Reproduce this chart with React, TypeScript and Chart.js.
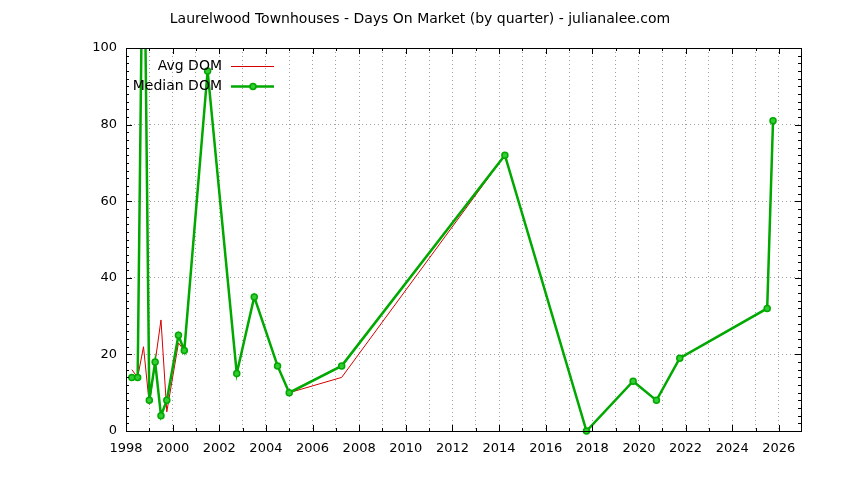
import Chart from "chart.js/auto";
import { useEffect, useRef } from "react";

const title = "Laurelwood Townhouses - Days On Market (by quarter) - julianalee.com";

// quarter positions (year + quarter/4)
const quarters = [
    1998.25, 1998.5, 1998.75, 1999.0, 1999.25, 1999.5, 1999.75, 2000.25, 2000.5,
    2001.5, 2002.75, 2003.5, 2004.5, 2005.0, 2007.25, 2014.25, 2017.75, 2019.75,
    2020.75, 2021.75, 2025.5, 2025.75,
];
const avgDom = [16, 14, 22, 7, 18, 29, 5, 23, 21, 94, 15, 35, 17, 10, 14, 72, 0, 13, 8, 19, 32, 81];
const medianDom = [14, 14, 150, 8, 18, 4, 8, 25, 21, 94, 15, 35, 17, 10, 17, 72, 0, 13, 8, 19, 32, 81];

const xTicks = Array.from({ length: 29 }, (_, i) => 1998 + i);
const yTicks = [0, 20, 40, 60, 80, 100];

const FONT = "DejaVu Sans";
const RED = "#d40000";
const GREEN = "#00a800";

const framePlugin = {
    id: "frame",
    afterDraw(chart: any) {
        const { ctx, chartArea: a, scales } = chart;
        const xs = scales.x;
        const ys = scales.y;
        ctx.save();
        ctx.strokeStyle = "#000";
        ctx.lineWidth = 1;
        ctx.strokeRect(a.left + 0.5, a.top + 0.5, a.right - a.left, a.bottom - a.top);
        ctx.beginPath();
        xTicks.forEach((v) => {
            const px = Math.round(xs.getPixelForValue(v)) + 0.5;
            const len = v % 2 === 0 ? 6 : 3;
            ctx.moveTo(px, a.bottom);
            ctx.lineTo(px, a.bottom - len);
            ctx.moveTo(px, a.top);
            ctx.lineTo(px, a.top + len);
        });
        for (let v = 0; v <= 100; v += 2) {
            const py = Math.round(ys.getPixelForValue(v)) + 0.5;
            const len = v % 20 === 0 ? 6 : 3;
            ctx.moveTo(a.left, py);
            ctx.lineTo(a.left + len, py);
            ctx.moveTo(a.right, py);
            ctx.lineTo(a.right - len, py);
        }
        ctx.stroke();

        // title
        ctx.fillStyle = "#000";
        ctx.font = `14px "${FONT}"`;
        ctx.textAlign = "center";
        ctx.textBaseline = "middle";
        ctx.fillText(title, 420, 19);

        // key
        ctx.font = `14px "${FONT}"`;
        ctx.textAlign = "right";
        const rows = [
            { label: "Avg DOM", color: RED, width: 1, marker: false, y: 66 },
            { label: "Median DOM", color: GREEN, width: 2.5, marker: true, y: 86 },
        ];
        rows.forEach((r) => {
            ctx.fillStyle = "#000";
            ctx.fillText(r.label, 222, r.y);
            ctx.strokeStyle = r.color;
            ctx.lineWidth = r.width;
            ctx.beginPath();
            ctx.moveTo(231, r.y + 0.5);
            ctx.lineTo(274, r.y + 0.5);
            ctx.stroke();
            if (r.marker) {
                ctx.beginPath();
                ctx.arc(253, r.y + 0.5, 3, 0, Math.PI * 2);
                ctx.fillStyle = "#3c3";
                ctx.fill();
                ctx.lineWidth = 1.5;
                ctx.stroke();
            }
        });
        ctx.restore();
    },
};

const DomChart = () => {
    const canvasRef = useRef<HTMLCanvasElement | null>(null);

    useEffect(() => {
        if (!canvasRef.current) return;
        const ctx = canvasRef.current.getContext("2d");
        if (!ctx) return;

        const chart = new Chart(ctx, {
            type: "line",
            data: {
                datasets: [
                    {
                        label: "Avg DOM",
                        data: quarters.map((q, i) => ({ x: q, y: avgDom[i] })),
                        borderColor: RED,
                        borderWidth: 1,
                        pointRadius: 0,
                        tension: 0,
                        order: 1,
                        clip: { left: 6, right: 6, top: 0, bottom: 6 },
                    },
                    {
                        label: "Median DOM",
                        data: quarters.map((q, i) => ({ x: q, y: medianDom[i] })),
                        borderColor: GREEN,
                        borderWidth: 2.5,
                        pointRadius: 3,
                        pointBorderWidth: 1.5,
                        pointBorderColor: GREEN,
                        pointBackgroundColor: "#3c3",
                        tension: 0,
                        order: 0,
                        clip: { left: 6, right: 6, top: 0, bottom: 6 },
                    },
                ],
            },
            options: {
                responsive: false,
                animation: false,
                layout: { padding: { left: 0, top: 48, right: 43, bottom: 0 } },
                plugins: {
                    legend: { display: false },
                    title: { display: false },
                    tooltip: { enabled: false },
                },
                scales: {
                    x: {
                        type: "linear",
                        min: 1998,
                        max: 2026.95,
                        afterBuildTicks: (s: any) => {
                            s.ticks = xTicks.map((v) => ({ value: v }));
                        },
                        afterFit: (s: any) => {
                            s.height = 49;
                        },
                        grid: { color: "#a0a0a0", drawTicks: false },
                        border: { display: false, dash: [1, 3] },
                        ticks: {
                            autoSkip: false,
                            maxRotation: 0,
                            padding: 10,
                            color: "#000",
                            font: { family: FONT, size: 13 },
                            callback: (v: any) => (v % 2 === 0 ? String(v) : ""),
                        },
                    },
                    y: {
                        min: 0,
                        max: 100,
                        afterBuildTicks: (s: any) => {
                            s.ticks = yTicks.map((v) => ({ value: v }));
                        },
                        afterFit: (s: any) => {
                            s.width = 126;
                        },
                        grid: { color: "#a0a0a0", drawTicks: false },
                        border: { display: false, dash: [1, 3] },
                        ticks: {
                            padding: 9,
                            color: "#000",
                            font: { family: FONT, size: 13 },
                        },
                    },
                },
            },
            plugins: [framePlugin],
        });
        return () => {
            chart.destroy();
        };
    }, []);

    return <canvas ref={canvasRef} width={844} height={480}></canvas>;
};

export default function App() {
    return (
        <div style={{ position: "absolute", left: 0, top: 0, width: 844, height: 480, background: "#fff" }}>
            <DomChart />
        </div>
    );
}
